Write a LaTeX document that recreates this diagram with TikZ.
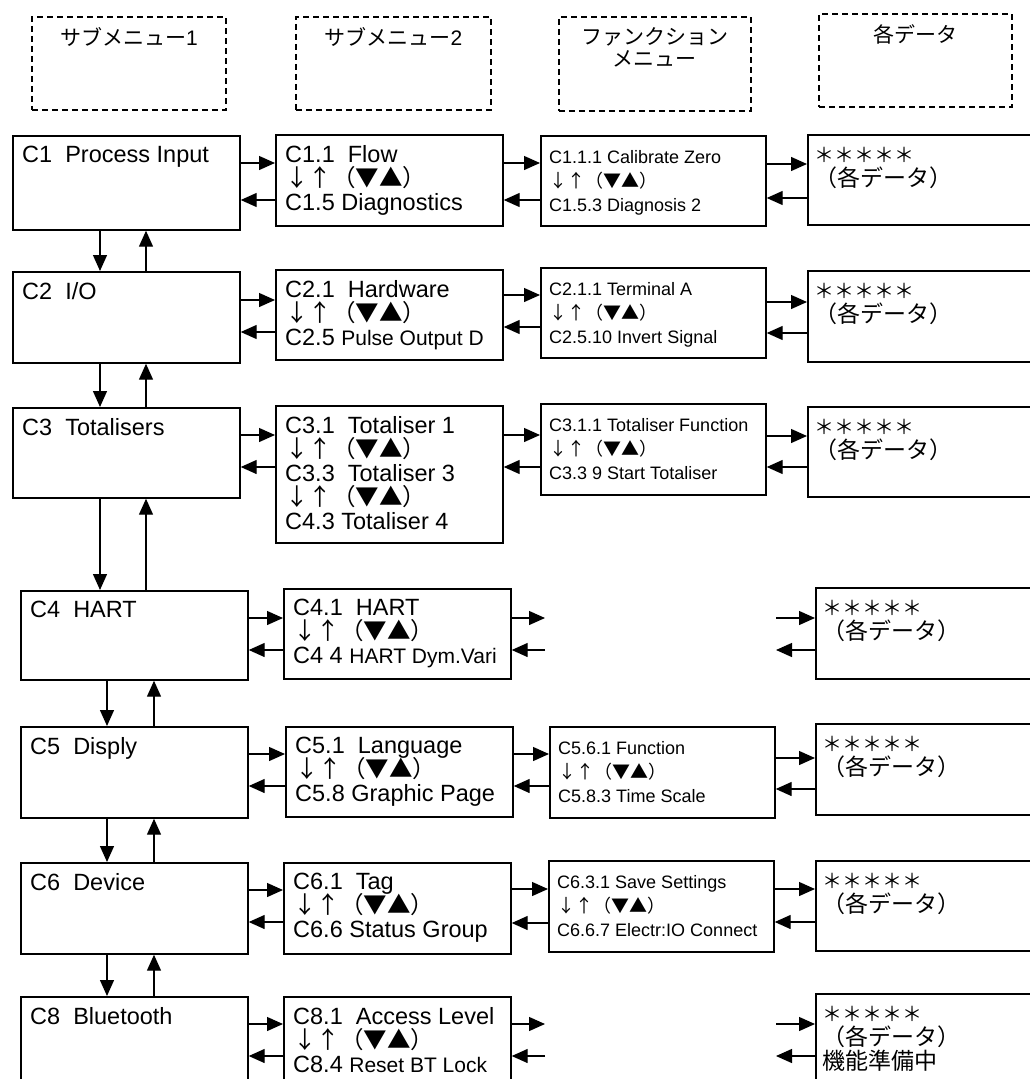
\documentclass[tikz,border=0pt]{standalone}
\usepackage{fontspec}
\setmainfont{Liberation Sans}
\newfontfamily\jpfont{Noto Sans CJK JP}
\usetikzlibrary{arrows.meta}
\newcommand\updn{{\jpfont ↓↑（▼▲）}}
\newcommand\smalltxt[1]{{\fontsize{21}{24}\selectfont #1}}
\newcommand\stars{{\fontsize{20}{24}\selectfont ＊＊＊＊＊}}
\lineskiplimit=-100pt

\begin{document}
\begin{tikzpicture}[x=1pt,y=-1pt,
    hdr/.style={draw,line width=1.7pt,dash pattern=on 6pt off 4pt,anchor=north west,
      inner sep=0pt,minimum width=194pt,minimum height=93pt},
    htxt/.style={anchor=north,align=center,inner xsep=0pt,inner ysep=11pt,
      font=\jpfont\fontsize{21}{22}\selectfont},
    box/.style={draw,line width=1.7pt,anchor=north west,inner sep=0pt,minimum width=227pt},
    fbox/.style={box,minimum width=225pt},
    dbox/.style={box,minimum width=240pt},
    mtxt/.style={anchor=north west,align=left,inner xsep=10pt,inner ysep=11pt,
      font=\fontsize{23.5}{24}\selectfont},
    ftxt/.style={mtxt,inner xsep=9pt,inner ysep=15pt,font=\fontsize{18}{24}\selectfont},
    dtxt/.style={anchor=north west,align=left,inner xsep=7pt,inner ysep=13pt,
      font=\jpfont\fontsize{23}{24}\selectfont},
    arr/.style={line width=1.3pt,-{Triangle[length=16pt,width=14pt]}}]
  \path[use as bounding box,clip] (0,0) rectangle (1030,1079);

  \node[hdr,label={[htxt]north:サブメニュー{\rmfamily 1}}] (h1) at (31,16) {};
  \node[hdr,minimum width=195pt,label={[htxt]north:サブメニュー{\rmfamily 2}}] (h2) at (295,16) {};
  \node[hdr,minimum width=192pt,minimum height=94pt,label={[htxt]north:{ファンクション\\メニュー}}] (h3) at (558,16) {};
  \node[hdr,minimum width=193pt,label={[htxt]north:各データ}] (h4) at (818,13) {};

  \node[box,minimum height=94pt,label={[mtxt]north west:C1~~Process Input}] (c1) at (12,135) {};
  \node[box,minimum height=91pt,label={[mtxt]north west:C2~~I/O}] (c2) at (12,271) {};
  \node[box,minimum height=90pt,label={[mtxt]north west:C3~~Totalisers}] (c3) at (12,407) {};
  \node[box,minimum height=89pt,label={[mtxt]north west:C4~~HART}] (c4) at (20,590) {};
  \node[box,minimum height=91pt,label={[mtxt]north west:C5~~Disply}] (c5) at (20,726) {};
  \node[box,minimum height=91pt,label={[mtxt]north west:C6~~Device}] (c6) at (20,862) {};
  \node[box,minimum height=100pt,label={[mtxt]north west:C8~~Bluetooth}] (c8) at (20,996) {};

  \node[box,minimum height=91pt,label={[mtxt]north west:{C1.1~~Flow\\\updn\\C1.5 Diagnostics}}] (s1) at (275,134) {};
  \node[box,minimum height=90pt,label={[mtxt]north west:{C2.1~~Hardware\\\updn\\C2.5 \smalltxt{Pulse Output D}}}] (s2) at (275,269) {};
  \node[box,minimum height=137pt,label={[mtxt]north west:{C3.1~~Totaliser 1\\\updn\\C3.3~~Totaliser 3\\\updn\\C4.3 Totaliser 4}}] (s3) at (275,405) {};
  \node[box,minimum height=90pt,label={[mtxt]north west:{C4.1~~HART\\\updn\\C4 4 \smalltxt{HART Dym.Vari}}}] (s4) at (283,588) {};
  \node[box,minimum height=90pt,label={[mtxt]north west:{C5.1~~Language\\\updn\\C5.8 Graphic Page}}] (s5) at (285,726) {};
  \node[box,minimum height=91pt,label={[mtxt]north west:{C6.1~~Tag\\\updn\\C6.6 Status Group}}] (s6) at (283,862) {};
  \node[box,minimum height=100pt,label={[mtxt]north west:{C8.1~~Access Level\\\updn\\C8.4 \smalltxt{Reset BT Lock}}}] (s8) at (283,996) {};

  \node[fbox,minimum height=90pt,label={[ftxt]north west:{C1.1.1 Calibrate Zero\\\updn\\C1.5.3 Diagnosis 2}}] (f1) at (540,135) {};
  \node[fbox,minimum height=90pt,label={[ftxt]north west:{C2.1.1 Terminal A\\\updn\\C2.5.10 Invert Signal}}] (f2) at (540,267) {};
  \node[fbox,minimum height=91pt,label={[ftxt]north west:{C3.1.1 Totaliser Function\\\updn\\C3.3 9 Start Totaliser}}] (f3) at (540,403) {};
  \node[fbox,minimum height=91pt,label={[ftxt]north west:{C5.6.1 Function\\\updn\\C5.8.3 Time Scale}}] (f5) at (549,726) {};
  \node[fbox,minimum height=91pt,label={[ftxt]north west:{C6.3.1 Save Settings\\\updn\\C6.6.7 Electr:IO Connect}}] (f6) at (548,860) {};

  \node[dbox,minimum height=90pt,label={[dtxt]north west:{\stars\\（各データ）}}] (d1) at (807,134) {};
  \node[dbox,minimum height=91pt,label={[dtxt]north west:{\stars\\（各データ）}}] (d2) at (807,270) {};
  \node[dbox,minimum height=90pt,label={[dtxt]north west:{\stars\\（各データ）}}] (d3) at (807,406) {};
  \node[dbox,minimum height=91pt,label={[dtxt]north west:{\stars\\（各データ）}}] (d4) at (815,587) {};
  \node[dbox,minimum height=91pt,label={[dtxt]north west:{\stars\\（各データ）}}] (d5) at (815,723) {};
  \node[dbox,minimum height=90pt,label={[dtxt]north west:{\stars\\（各データ）}}] (d6) at (815,860) {};
  \node[dbox,minimum height=100pt,label={[dtxt]north west:{\stars\\（各データ）\\機能準備中}}] (d8) at (815,993) {};

  \coordinate (gl) at (545,0);
  \coordinate (gr) at (776,0);

  \foreach \a/\b/\f/\r in {c1/s1/163/200,s1/f1/163/200,f1/d1/164/198,
      c2/s2/300/332,s2/f2/295/327,f2/d2/302/333,
      c3/s3/435/467,s3/f3/435/467,f3/d3/436/467,
      c4/s4/618/650,
      c5/s5/754/786,s5/f5/754/786,f5/d5/758/789,
      c6/s6/890/922,s6/f6/889/923,f6/d6/889/922,
      c8/s8/1024/1056}{
    \draw[arr] (\a.east |- 0,\f) -- (\b.west |- 0,\f);
    \draw[arr] (\b.west |- 0,\r) -- (\a.east |- 0,\r);}

  \foreach \s/\d/\f/\r in {s4/d4/618/650,s8/d8/1024/1056}{
    \draw[arr] (\s.east |- 0,\f) -- (gl |- 0,\f);
    \draw[arr] (gl |- 0,\r) -- (\s.east |- 0,\r);
    \draw[arr] (gr |- 0,\f) -- (\d.west |- 0,\f);
    \draw[arr] (\d.west |- 0,\r) -- (gr |- 0,\r);}

  \foreach \a/\b/\xd/\xu in {c1/c2/100/146,c2/c3/100/146,c3/c4/100/146,
      c4/c5/107/154,c5/c6/107/154,c6/c8/107/154}{
    \draw[arr] (\xd,0 |- \a.south) -- (\xd,0 |- \b.north);
    \draw[arr] (\xu,0 |- \b.north) -- (\xu,0 |- \a.south);}
\end{tikzpicture}
\end{document}
